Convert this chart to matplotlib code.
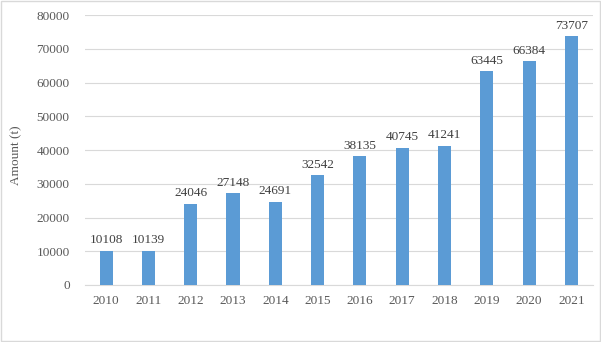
import numpy as np
import matplotlib.pyplot as plt

years = ['2010', '2011', '2012', '2013', '2014', '2015', '2016', '2017', '2018', '2019', '2020', '2021']
amounts = [10108, 10139, 24046, 27148, 24691, 32542, 38135, 40745, 41241, 63445, 66384, 73707]

plt.rcParams['font.family'] = ['Liberation Serif', 'DejaVu Serif']
txt = '#595959'
fs = 9.5

fig = plt.figure(figsize=(6.01, 3.42), dpi=100)
ax = fig.add_axes([0.1414, 0.1667, 0.8446, 0.7893])

x = np.arange(len(years))
ax.bar(x, amounts, width=0.31, color='#5b9bd5', zorder=3)
for xi, v in zip(x, amounts):
    ax.text(xi, v + 1300, str(v), ha='center', va='bottom', fontsize=fs, color='#404040')

ax.set_xlim(-0.5, len(years) - 0.5)
ax.set_ylim(0, 80000)
ax.set_yticks(np.arange(0, 80001, 10000))
ax.set_xticks(x)
ax.set_xticklabels(years)
ax.grid(axis='y', color='#d9d9d9', linewidth=0.8, zorder=0)
ax.tick_params(length=0, labelsize=fs, labelcolor=txt, pad=11)
ax.tick_params(axis='x', pad=7)
for s in ['top', 'right', 'left']:
    ax.spines[s].set_visible(False)
ax.spines['bottom'].set_color('#d9d9d9')
fig.text(0.027, 0.545, 'Amount (t)', rotation=90, ha='center', va='center',
         fontsize=fs, color=txt)

# light frame around the whole figure
fig.patches.append(plt.Rectangle((0.002, 0.003), 0.996, 0.994, transform=fig.transFigure,
                                 fill=False, edgecolor='#d9d9d9', linewidth=1))

fig.savefig('out.png', dpi=100)
